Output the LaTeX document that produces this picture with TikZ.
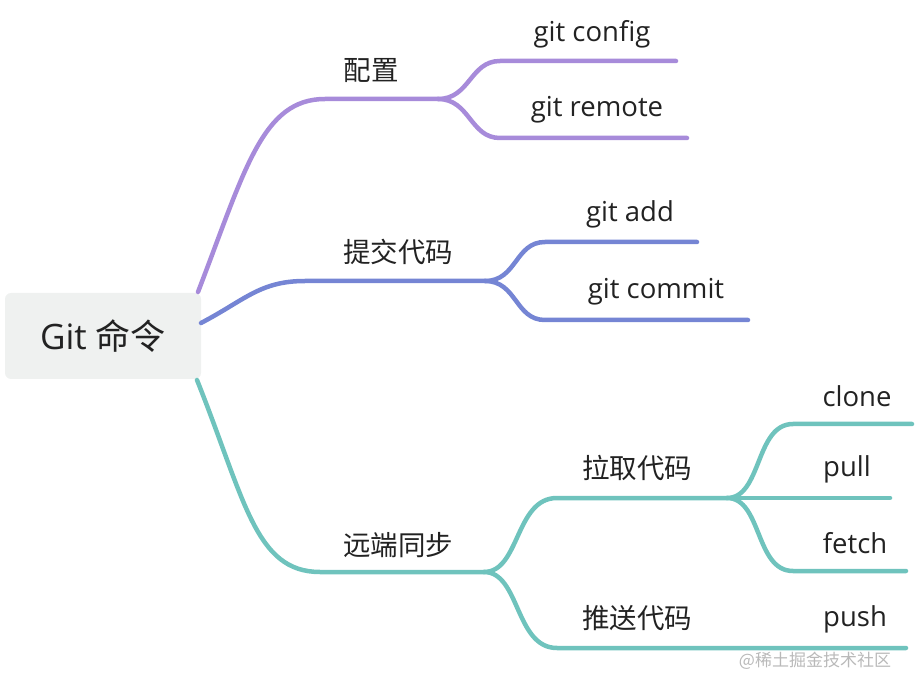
\documentclass[tikz,border=0pt]{standalone}
\usepackage{fontspec}
\setmainfont{Open Sans}
\newfontfamily\cjk{Noto Sans CJK SC}
\definecolor{cpurple}{HTML}{A78BDA}
\definecolor{cblue}{HTML}{7585D4}
\definecolor{cteal}{HTML}{6FC3BD}
\definecolor{rootfill}{HTML}{EFF1F0}
\definecolor{txt}{HTML}{222222}
\begin{document}
\begin{tikzpicture}[x=1pt,y=-1pt,
  lbl/.style={text=txt,font=\fontsize{27.5}{32}\selectfont,inner sep=0pt,anchor=center},
  zh/.style={text=txt,font=\cjk\fontsize{27.5}{32}\selectfont,inner sep=0pt,anchor=center},
  br/.style={line width=4.5pt,line cap=round},
]
\useasboundingbox (0,0) rectangle (916,692);
\node[fill=rootfill,rounded corners=6pt,minimum width=196pt,minimum height=86pt,inner sep=0pt,
      text=txt,font=\fontsize{35}{40}\selectfont] (root) at (103,336) {Git {\cjk 命令}};

% coordinates
\coordinate (pA) at (198,292);
\coordinate (pB) at (325,99);
\coordinate (pF) at (438,99);
\coordinate (pC1) at (500,61);
\coordinate (pC1e) at (676,61);
\coordinate (pC2) at (500,138);
\coordinate (pC2e) at (687,138);

\coordinate (bA) at (201,323);
\coordinate (bB) at (305,281);
\coordinate (bF) at (485,281);
\coordinate (bC1) at (545,242);
\coordinate (bC1e) at (697,242);
\coordinate (bC2) at (545,320);
\coordinate (bC2e) at (748,320);

\coordinate (tA) at (197,380);
\coordinate (tB) at (320,572);
\coordinate (tF) at (484,572);
\coordinate (tU) at (557,498);
\coordinate (tUF) at (727,498);
\coordinate (tD) at (557,648);
\coordinate (tDe) at (906,648);
\coordinate (tc1) at (793,424);
\coordinate (tc1e) at (912,424);
\coordinate (tc2e) at (890,498);
\coordinate (tc3) at (793,571);
\coordinate (tc3e) at (906,571);

% purple
\draw[br,cpurple] (pA) .. controls (245,170) and (262,99) .. (pB) -- (pF);
\draw[br,cpurple] (pF) .. controls (470,99) and (470,61) .. (pC1) -- (pC1e);
\draw[br,cpurple] (pF) .. controls (470,99) and (470,138) .. (pC2) -- (pC2e);
% blue
\draw[br,cblue] (bA) .. controls (245,300) and (260,281) .. (bB) -- (bF);
\draw[br,cblue] (bF) .. controls (517,281) and (515,242) .. (bC1) -- (bC1e);
\draw[br,cblue] (bF) .. controls (517,281) and (515,320) .. (bC2) -- (bC2e);
% teal
\draw[br,cteal] (tA) .. controls (245,500) and (255,572) .. (tB) -- (tF);
\draw[br,cteal] (tF) .. controls (520,572) and (515,498) .. (tU) -- (tUF);
\draw[br,cteal] (tF) .. controls (520,572) and (515,648) .. (tD) -- (tDe);
\draw[br,cteal] (tUF) .. controls (762,498) and (755,424) .. (tc1) -- (tc1e);
\draw[br,cteal] (tUF) -- (tc2e);
\draw[br,cteal] (tUF) .. controls (762,498) and (755,571) .. (tc3) -- (tc3e);

% labels
\node[zh] (l1) at (371,71) {配置};
\node[lbl] (l11) at (592,34) {git config};
\node[lbl] (l12) at (597,110) {git remote};
\node[zh] (l2) at (398,252) {提交代码};
\node[lbl] (l21) at (630,214) {git add};
\node[lbl] (l22) at (656,292) {git commit};
\node[zh] (l3) at (398,545) {远端同步};
\node[zh] (l31) at (637,468) {拉取代码};
\node[zh] (l32) at (637,618) {推送代码};
\node[lbl] (l311) at (857,396) {clone};
\node[lbl] (l312) at (847,469) {pull};
\node[lbl] (l313) at (855,543) {fetch};
\node[lbl] (l321) at (855,619) {push};
\node[text=gray!55,font=\cjk\fontsize{17}{19}\selectfont,inner sep=0pt] (wm) at (815,661) {@稀土掘金技术社区};
\end{tikzpicture}
\end{document}
